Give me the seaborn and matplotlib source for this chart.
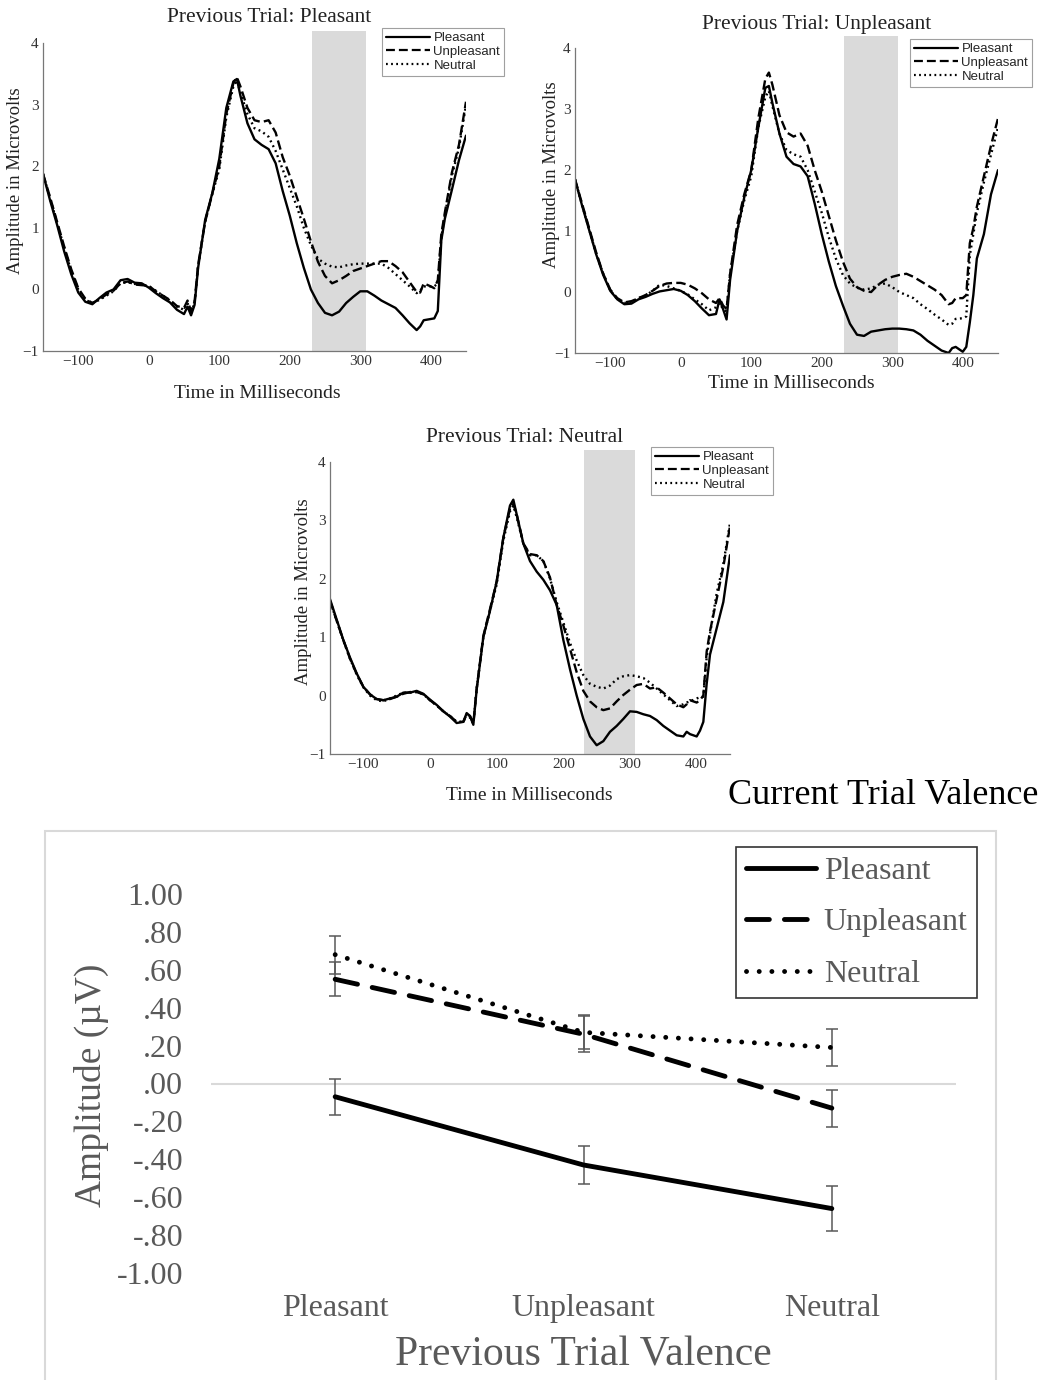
import numpy as np
import pandas as pd
import matplotlib
matplotlib.use('Agg')
import matplotlib.pyplot as plt
from matplotlib.lines import Line2D
from matplotlib.patches import Rectangle
from matplotlib.ticker import FuncFormatter
import seaborn as sns

# ---- データ（ERP 波形: 時間 ms ごとの振幅 µV）----
CONDITIONS = ['Pleasant', 'Unpleasant', 'Neutral']
TIME_MS = [-150, -140, -130, -120, -110, -100, -90, -80, -70, -60, -50, -40, -30, -20, -10,
           0, 10, 20, 30, 40, 50, 55, 60, 65, 70,
           80, 90, 100, 110, 120, 125, 130, 140, 150, 160, 170, 180, 190,
           200, 210, 220, 230, 240, 250, 260, 270, 280, 290, 300,
           310, 320, 330, 340, 350, 360, 370, 380,
           385, 390, 400, 405, 410, 415, 420, 430, 440, 450]

# Previous Trial: Pleasant
P1_PLEASANT = [1.88, 1.45, 1.05, 0.62, 0.25, -0.05, -0.20, -0.24, -0.14, -0.05, 0.00, 0.15, 0.17, 0.11, 0.10,
               0.03, -0.06, -0.14, -0.21, -0.33, -0.40, -0.28, -0.42, -0.25, 0.35,
               1.13, 1.56, 2.12, 2.95, 3.38, 3.42, 3.15, 2.70, 2.44, 2.35, 2.28, 2.05, 1.60,
               1.20, 0.75, 0.35, 0.00, -0.22, -0.38, -0.42, -0.36, -0.22, -0.12, -0.03,
               -0.03, -0.10, -0.18, -0.24, -0.30, -0.42, -0.55, -0.66,
               -0.60, -0.50, -0.48, -0.47, -0.35, 0.80, 1.15, 1.62, 2.10, 2.50]
P1_UNPLEASANT = [1.88, 1.50, 1.10, 0.70, 0.33, 0.02, -0.15, -0.22, -0.16, -0.08, -0.02, 0.10, 0.13, 0.08, 0.07,
                 0.06, -0.03, -0.10, -0.17, -0.27, -0.30, -0.18, -0.35, -0.20, 0.40,
                 1.10, 1.55, 2.00, 2.85, 3.35, 3.45, 3.30, 2.95, 2.75, 2.72, 2.75, 2.55, 2.15,
                 1.85, 1.50, 1.15, 0.78, 0.45, 0.22, 0.10, 0.15, 0.22, 0.30, 0.34,
                 0.38, 0.42, 0.46, 0.46, 0.38, 0.28, 0.12, -0.04,
                 -0.05, 0.10, 0.05, 0.02, 0.15, 0.90, 1.25, 1.90, 2.35, 3.05]
P1_NEUTRAL = [1.88, 1.48, 1.08, 0.68, 0.30, 0.00, -0.17, -0.22, -0.17, -0.10, -0.03, 0.10, 0.12, 0.09, 0.08,
              0.05, -0.02, -0.10, -0.18, -0.28, -0.33, -0.22, -0.38, -0.22, 0.38,
              1.10, 1.55, 1.95, 2.80, 3.30, 3.40, 3.20, 2.85, 2.62, 2.57, 2.48, 2.25, 1.95,
              1.65, 1.35, 1.00, 0.72, 0.50, 0.42, 0.37, 0.36, 0.39, 0.41, 0.42,
              0.42, 0.42, 0.42, 0.35, 0.25, 0.15, 0.05, -0.06,
              -0.02, 0.05, 0.05, 0.05, 0.10, 0.85, 1.20, 1.85, 2.30, 3.00]

# Previous Trial: Unpleasant
P2_PLEASANT = [1.85, 1.42, 1.02, 0.62, 0.28, 0.02, -0.12, -0.20, -0.19, -0.12, -0.08, -0.03, 0.01, 0.03, 0.05,
               0.02, -0.05, -0.15, -0.27, -0.38, -0.36, -0.12, -0.28, -0.45, 0.20,
               1.00, 1.55, 2.00, 2.70, 3.35, 3.38, 3.10, 2.60, 2.22, 2.10, 2.06, 1.90, 1.45,
               0.95, 0.50, 0.10, -0.22, -0.52, -0.70, -0.72, -0.65, -0.63, -0.61, -0.60,
               -0.60, -0.61, -0.63, -0.70, -0.80, -0.88, -0.96, -1.00,
               -0.92, -0.90, -0.98, -0.90, -0.50, -0.05, 0.55, 0.95, 1.60, 2.00]
P2_UNPLEASANT = [1.85, 1.45, 1.05, 0.65, 0.30, 0.04, -0.10, -0.17, -0.15, -0.10, -0.05, 0.02, 0.10, 0.14, 0.15,
                 0.15, 0.12, 0.06, -0.02, -0.12, -0.18, -0.10, -0.22, -0.28, 0.30,
                 1.10, 1.60, 2.00, 2.85, 3.50, 3.60, 3.40, 2.90, 2.62, 2.55, 2.60, 2.40, 2.00,
                 1.65, 1.25, 0.85, 0.50, 0.22, 0.08, 0.02, 0.00, 0.12, 0.20, 0.25,
                 0.28, 0.30, 0.25, 0.18, 0.11, 0.04, -0.05, -0.20,
                 -0.18, -0.10, -0.10, -0.05, 0.80, 1.05, 1.40, 1.90, 2.40, 2.85]
P2_NEUTRAL = [1.85, 1.43, 1.03, 0.63, 0.30, 0.03, -0.12, -0.18, -0.16, -0.10, -0.06, 0.02, 0.12, 0.10, 0.06,
              0.02, -0.04, -0.12, -0.20, -0.30, -0.25, -0.18, -0.28, -0.32, 0.30,
              1.00, 1.50, 1.90, 2.70, 3.20, 3.30, 3.05, 2.60, 2.33, 2.26, 2.22, 2.00, 1.65,
              1.30, 0.90, 0.55, 0.28, 0.14, 0.07, 0.04, 0.06, 0.12, 0.14, 0.08,
              0.00, -0.05, -0.10, -0.20, -0.28, -0.37, -0.45, -0.54,
              -0.52, -0.44, -0.43, -0.40, 0.60, 0.95, 1.30, 1.80, 2.25, 2.70]

# Previous Trial: Neutral
P3_PLEASANT = [1.65, 1.30, 0.95, 0.65, 0.38, 0.15, 0.02, -0.06, -0.08, -0.05, -0.02, 0.05, 0.05, 0.08, 0.03,
               -0.07, -0.16, -0.27, -0.36, -0.47, -0.45, -0.30, -0.35, -0.50, 0.10,
               1.00, 1.45, 1.95, 2.70, 3.25, 3.35, 3.10, 2.60, 2.30, 2.12, 1.98, 1.80, 1.55,
               0.95, 0.45, 0.00, -0.40, -0.70, -0.85, -0.78, -0.62, -0.52, -0.40, -0.27,
               -0.28, -0.32, -0.35, -0.42, -0.52, -0.60, -0.68, -0.70,
               -0.62, -0.66, -0.70, -0.60, -0.45, 0.20, 0.70, 1.15, 1.60, 2.40]
P3_UNPLEASANT = [1.62, 1.28, 0.95, 0.63, 0.37, 0.15, 0.02, -0.06, -0.08, -0.06, -0.02, 0.03, 0.06, 0.06, 0.02,
                 -0.08, -0.17, -0.27, -0.35, -0.45, -0.45, -0.32, -0.35, -0.48, 0.12,
                 1.02, 1.48, 1.95, 2.70, 3.20, 3.28, 3.10, 2.60, 2.42, 2.40, 2.30, 2.02, 1.55,
                 1.20, 0.80, 0.40, 0.08, -0.10, -0.20, -0.25, -0.22, -0.10, 0.01, 0.10,
                 0.18, 0.20, 0.12, 0.14, 0.05, -0.05, -0.15, -0.20,
                 -0.15, -0.08, -0.12, -0.08, 0.00, 0.75, 1.10, 1.65, 2.20, 2.90]
P3_NEUTRAL = [1.62, 1.28, 0.94, 0.63, 0.36, 0.14, 0.00, -0.08, -0.10, -0.05, 0.00, 0.05, 0.05, 0.06, 0.02,
              -0.08, -0.17, -0.27, -0.35, -0.45, -0.45, -0.32, -0.38, -0.48, 0.12,
              1.00, 1.45, 1.90, 2.65, 3.15, 3.25, 3.05, 2.60, 2.40, 2.40, 2.30, 2.00, 1.60,
              1.25, 0.90, 0.60, 0.35, 0.20, 0.15, 0.12, 0.17, 0.28, 0.33, 0.35,
              0.33, 0.30, 0.22, 0.12, 0.02, -0.08, -0.18, -0.15,
              -0.12, -0.10, -0.05, -0.03, -0.02, 0.65, 1.05, 1.75, 2.25, 2.95]

PANEL_TITLES = ['Previous Trial: Pleasant', 'Previous Trial: Unpleasant', 'Previous Trial: Neutral']
SHADE_WINDOW = (231, 308)

# ---- 下段: 平均振幅と誤差 ----
CATEGORIES = ['Pleasant', 'Unpleasant', 'Neutral']
MEAN_PLEASANT = [-0.07, -0.43, -0.66]
MEAN_UNPLEASANT = [0.55, 0.26, -0.13]
MEAN_NEUTRAL = [0.68, 0.27, 0.19]
ERR_PLEASANT = [0.095, 0.10, 0.12]
ERR_UNPLEASANT = [0.09, 0.095, 0.097]
ERR_NEUTRAL = [0.10, 0.09, 0.097]

W, H = 1042, 1380
sns.set_style('white')
plt.rcParams['font.family'] = ['Liberation Serif', 'DejaVu Serif']

fig = plt.figure(figsize=(W / 100, H / 100), dpi=100)


def box(x0, y0, x1, y1):
    return [x0 / W, 1 - y1 / H, (x1 - x0) / W, (y1 - y0) / H]


def ftext(x, y, s, **kw):
    fig.text(x / W, 1 - y / H, s, ha=kw.pop('ha', 'center'), va=kw.pop('va', 'center'), **kw)


wave_dashes = {'Pleasant': '', 'Unpleasant': (4.0, 1.8), 'Neutral': (0.8, 1.5)}
black = {c: 'black' for c in CONDITIONS}


def wave_panel(rect, series, title, title_xy, xlabel_xy, ylabel_xy, legend_xy):
    ax = fig.add_axes(rect)
    df = pd.DataFrame({
        'time': TIME_MS * 3,
        'amp': [v for s in series for v in s],
        'cond': np.repeat(CONDITIONS, len(TIME_MS)),
    })
    ax.axvspan(*SHADE_WINDOW, color='#dadada', lw=0, zorder=0)
    sns.lineplot(data=df, x='time', y='amp', hue='cond', style='cond',
                 hue_order=CONDITIONS, style_order=CONDITIONS,
                 palette=black, dashes=wave_dashes, linewidth=1.7,
                 errorbar=None, legend=False, ax=ax)
    ax.set_xlim(-150, 450)
    ax.set_ylim(-1, 4.2)
    ax.set_xticks([-100, 0, 100, 200, 300, 400])
    ax.set_yticks([-1, 0, 1, 2, 3, 4])
    ax.set_xlabel('')
    ax.set_ylabel('')
    for s in ['top', 'right']:
        ax.spines[s].set_visible(False)
    for s in ['left', 'bottom']:
        ax.spines[s].set_color('#777777')
        ax.spines[s].set_linewidth(0.9)
    ax.spines['left'].set_bounds(-1, 4)
    ax.tick_params(direction='in', length=3, width=0.8, color='#777777',
                   labelsize=11, labelcolor='#333333', pad=3)
    ftext(*title_xy, title, fontsize=15.5, color='#222222')
    ftext(*xlabel_xy, 'Time in Milliseconds', fontsize=14, color='#222222')
    ftext(*ylabel_xy, 'Amplitude in Microvolts', fontsize=13.5, color='#222222', rotation=90)
    handles = [Line2D([], [], color='black', lw=1.6, dashes=wave_dashes[c]) for c in CONDITIONS]
    leg = ax.legend(handles, CONDITIONS, loc='upper left',
                    bbox_to_anchor=(legend_xy[0] / W, 1 - legend_xy[1] / H),
                    bbox_transform=fig.transFigure, borderaxespad=0,
                    prop={'family': 'Liberation Sans', 'size': 9.5},
                    frameon=True, fancybox=False, edgecolor='#888888',
                    borderpad=0.3, handlelength=3.3, handletextpad=0.3, labelspacing=0.12)
    leg.get_frame().set_linewidth(0.8)
    return ax


wave_panel(box(43, 31, 466, 351), [P1_PLEASANT, P1_UNPLEASANT, P1_NEUTRAL], PANEL_TITLES[0],
           (269, 17), (257, 393), (16, 181), (382, 28))
wave_panel(box(575, 36, 998, 353), [P2_PLEASANT, P2_UNPLEASANT, P2_NEUTRAL], PANEL_TITLES[1],
           (817, 25), (791, 383), (551, 175), (910, 39))
wave_panel(box(330, 450, 730, 754), [P3_PLEASANT, P3_UNPLEASANT, P3_NEUTRAL], PANEL_TITLES[2],
           (525, 438), (529, 795), (303, 592), (651, 447))

ftext(1038, 795, 'Current Trial Valence', ha='right', fontsize=26, color='black')

# ---- 下段の折れ線グラフ（Excel 風）----
fig.add_artist(Rectangle((45 / W, 1 - 1390 / H), (996 - 45) / W, (1390 - 831) / H,
                         transform=fig.transFigure, fill=False, ec='#d9d9d9', lw=1.5))
ax4 = fig.add_axes(box(211, 894, 956, 1273))
xpos = list(range(len(CATEGORIES)))
means = [MEAN_PLEASANT, MEAN_UNPLEASANT, MEAN_NEUTRAL]
errs = [ERR_PLEASANT, ERR_UNPLEASANT, ERR_NEUTRAL]
df_mean = pd.DataFrame({
    'pos': xpos * 3,
    'amp': [v for m in means for v in m],
    'cond': np.repeat(CONDITIONS, len(CATEGORIES)),
})
ax4.axhline(0, color='#d9d9d9', lw=1.5, zorder=0)
for m, e in zip(means, errs):
    ax4.errorbar(xpos, m, yerr=e, fmt='none', ecolor='#595959', elinewidth=1.1,
                 capsize=4, capthick=1.1, zorder=1)
mean_dashes = {'Pleasant': '', 'Unpleasant': (4.7, 3.1), 'Neutral': (0.01, 2.6)}
sns.lineplot(data=df_mean, x='pos', y='amp', hue='cond', style='cond',
             hue_order=CONDITIONS, style_order=CONDITIONS, palette=black,
             dashes=mean_dashes, linewidth=3.5, dash_capstyle='round',
             errorbar=None, legend=False, ax=ax4, zorder=2)
ax4.set_xlim(-0.5, 2.5)
ax4.set_ylim(-1, 1)
ax4.set_xticks(xpos)
ax4.set_xticklabels(CATEGORIES)
ax4.set_yticks(np.round(np.arange(-1, 1.01, 0.2), 2))


def excel_fmt(v, _):
    s = f'{v:.2f}'
    if s == '-0.00':
        s = '0.00'
    return s.replace('0.', '.', 1) if abs(v) < 1 else s


ax4.yaxis.set_major_formatter(FuncFormatter(excel_fmt))
ax4.tick_params(axis='y', length=0, pad=20, labelsize=23, labelcolor='#595959')
ax4.tick_params(axis='x', length=0, pad=15, labelsize=23, labelcolor='#595959')
ax4.set_xlabel('')
ax4.set_ylabel('')
for s in ax4.spines.values():
    s.set_visible(False)
ax4.set_facecolor('none')

ftext(583, 1355, 'Previous Trial Valence', fontsize=30, color='#595959')
ftext(91, 1085, 'Amplitude (µV)', fontsize=27, color='#595959', rotation=90)

leg_handles = [Line2D([], [], color='black', lw=3.5, dashes=mean_dashes[c],
                      dash_capstyle='round') for c in CONDITIONS]
leg = ax4.legend(leg_handles, CONDITIONS, loc='upper left',
                 bbox_to_anchor=(736 / W, 1 - 847 / H), bbox_transform=fig.transFigure,
                 borderaxespad=0, fontsize=23, labelcolor='#595959', frameon=True,
                 fancybox=False, edgecolor='black', borderpad=0.3, handlelength=2.2,
                 handletextpad=0.25, labelspacing=0.69)
leg.get_frame().set_linewidth(1.2)

fig.savefig('out.png', dpi=100, facecolor='white')
